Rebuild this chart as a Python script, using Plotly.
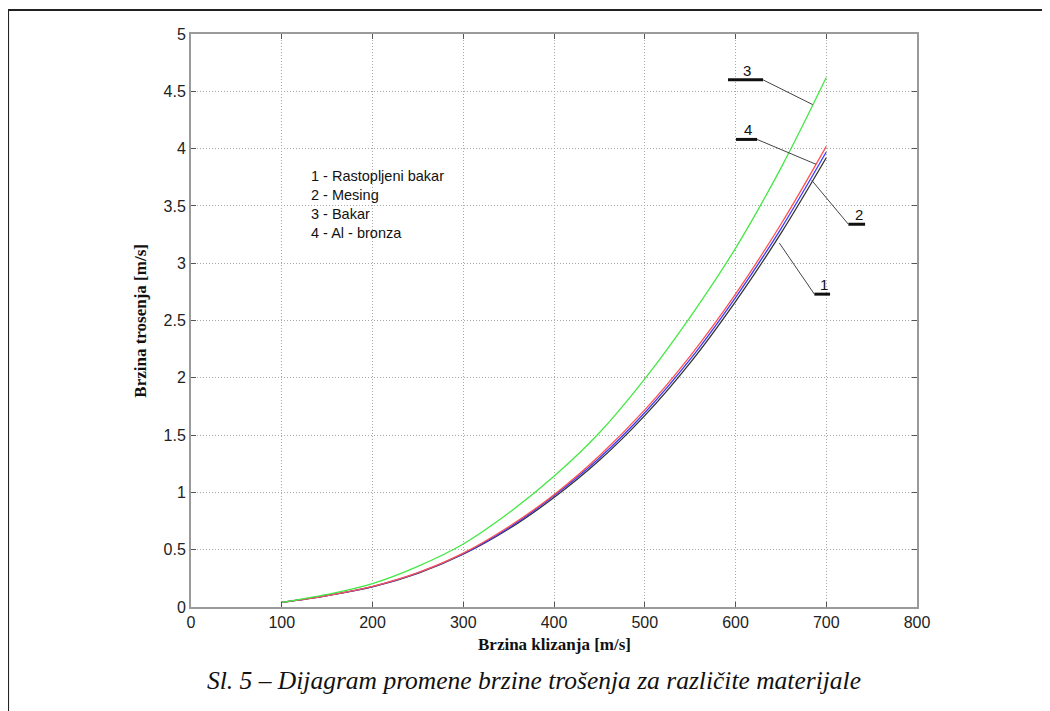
import plotly.graph_objects as go

# ---- data ----
brzina_klizanja = [100, 150, 200, 250, 300, 350, 400, 450, 500, 550, 600, 650, 700]
rastopljeni_bakar = [0.04, 0.10, 0.176, 0.294, 0.46, 0.68, 0.955, 1.28, 1.67, 2.13, 2.665, 3.26, 3.92]
mesing = [0.04, 0.10, 0.178, 0.297, 0.465, 0.69, 0.97, 1.30, 1.695, 2.16, 2.70, 3.30, 3.97]
bakar = [0.04, 0.11, 0.205, 0.355, 0.55, 0.82, 1.14, 1.52, 1.99, 2.53, 3.13, 3.83, 4.62]
al_bronza = [0.04, 0.10, 0.18, 0.30, 0.47, 0.70, 0.98, 1.32, 1.72, 2.19, 2.73, 3.34, 4.02]

x_ticks = [0, 100, 200, 300, 400, 500, 600, 700, 800]
y_ticks = [0, 0.5, 1, 1.5, 2, 2.5, 3, 3.5, 4, 4.5, 5]
y_tick_labels = ["0", "0.5", "1", "1.5", "2", "2.5", "3", "3.5", "4", "4.5", "5"]

legend_lines = ["1 - Rastopljeni bakar", "2 - Mesing", "3 - Bakar", "4 - Al - bronza"]

# callouts (label, bar x0, bar x1, bar y, leader end x, leader end y, leader start side)
callout_labels = ["3", "4", "2", "1"]
callout_bar_x0 = [591.7, 600.5, 724.4, 686.9]
callout_bar_x1 = [630.3, 623.8, 742.8, 704.2]
callout_bar_y = [4.60, 4.08, 3.34, 2.73]
callout_tip_x = [685, 688.8, 684, 648.3]
callout_tip_y = [4.384, 3.863, 3.723, 3.176]
callout_from_right = [True, True, False, False]

series = [
    ("1", rastopljeni_bakar, "#333333"),
    ("2", mesing, "#3b3bff"),
    ("4", al_bronza, "#ff5252"),
    ("3", bakar, "#44e844"),
]

fig = go.Figure()
for name, ys, col in series:
    fig.add_trace(go.Scatter(x=brzina_klizanja, y=ys, mode="lines", name=name,
                             line=dict(color=col, width=1.3, shape="spline", smoothing=1.0),
                             showlegend=False, hoverinfo="skip"))

shapes = []
annotations = []
for i, lab in enumerate(callout_labels):
    x0, x1, yb = callout_bar_x0[i], callout_bar_x1[i], callout_bar_y[i]
    shapes.append(dict(type="line", xref="x", yref="y", x0=x0, x1=x1, y0=yb, y1=yb,
                       line=dict(color="#111111", width=3)))
    sx = x1 if callout_from_right[i] else x0
    shapes.append(dict(type="line", xref="x", yref="y", x0=sx, y0=yb,
                       x1=callout_tip_x[i], y1=callout_tip_y[i],
                       line=dict(color="#444444", width=1)))
    annotations.append(dict(x=(x0 + x1) / 2 + 2, y=yb, xref="x", yref="y", text=lab,
                            showarrow=False, yanchor="bottom", yshift=-1,
                            font=dict(family="Liberation Sans, Arial", size=15, color="#111")))

# outer frame
shapes.append(dict(type="line", xref="paper", yref="paper", x0=-0.252, x1=1.2, y0=1.042, y1=1.042,
                   line=dict(color="#222222", width=2)))
shapes.append(dict(type="line", xref="paper", yref="paper", x0=-0.252, x1=-0.252, y0=1.042, y1=-0.2,
                   line=dict(color="#222222", width=2)))

annotations.append(dict(x=0.163, y=0.769, xref="paper", yref="paper", xanchor="left", yanchor="top",
                        align="left", showarrow=False, text="<br>".join(legend_lines),
                        font=dict(family="Liberation Sans, Arial", size=14.5, color="#111")))
annotations.append(dict(x=0.5, y=-0.066, xref="paper", yref="paper", showarrow=False,
                        text="<b>Brzina klizanja [m/s]</b>", yanchor="middle",
                        font=dict(family="Liberation Serif, Times New Roman", size=17, color="#111")))
annotations.append(dict(x=-0.07, y=0.5, xref="paper", yref="paper", showarrow=False, textangle=-90,
                        text="<b>Brzina trosenja [m/s]</b>", xanchor="center",
                        font=dict(family="Liberation Serif, Times New Roman", size=17, color="#111")))
annotations.append(dict(x=0.473, y=-0.128, xref="paper", yref="paper", showarrow=False,
                        text="<i>Sl. 5 – Dijagram promene brzine trošenja za različite materijale</i>",
                        yanchor="middle",
                        font=dict(family="Liberation Serif, Times New Roman", size=25.5, color="#111")))

axis_common = dict(showline=True, linecolor="#9a9a9a", linewidth=2, mirror="ticks",
                   ticks="inside", ticklen=5, tickcolor="#555555", tickwidth=1,
                   showgrid=True, gridcolor="#a8a8a8", gridwidth=1, griddash="1px,2px",
                   zeroline=False,
                   tickfont=dict(family="Liberation Sans, Arial", size=16, color="#222"))

fig.update_layout(
    width=1050, height=711,
    margin=dict(l=183, r=141, t=26, b=112),
    paper_bgcolor="white", plot_bgcolor="white",
    xaxis=dict(range=[0, 800], tickvals=x_ticks, **axis_common),
    yaxis=dict(range=[0, 5], tickvals=y_ticks, ticktext=y_tick_labels, **axis_common),
    shapes=shapes, annotations=annotations, showlegend=False,
)

fig.write_html("out.html")
